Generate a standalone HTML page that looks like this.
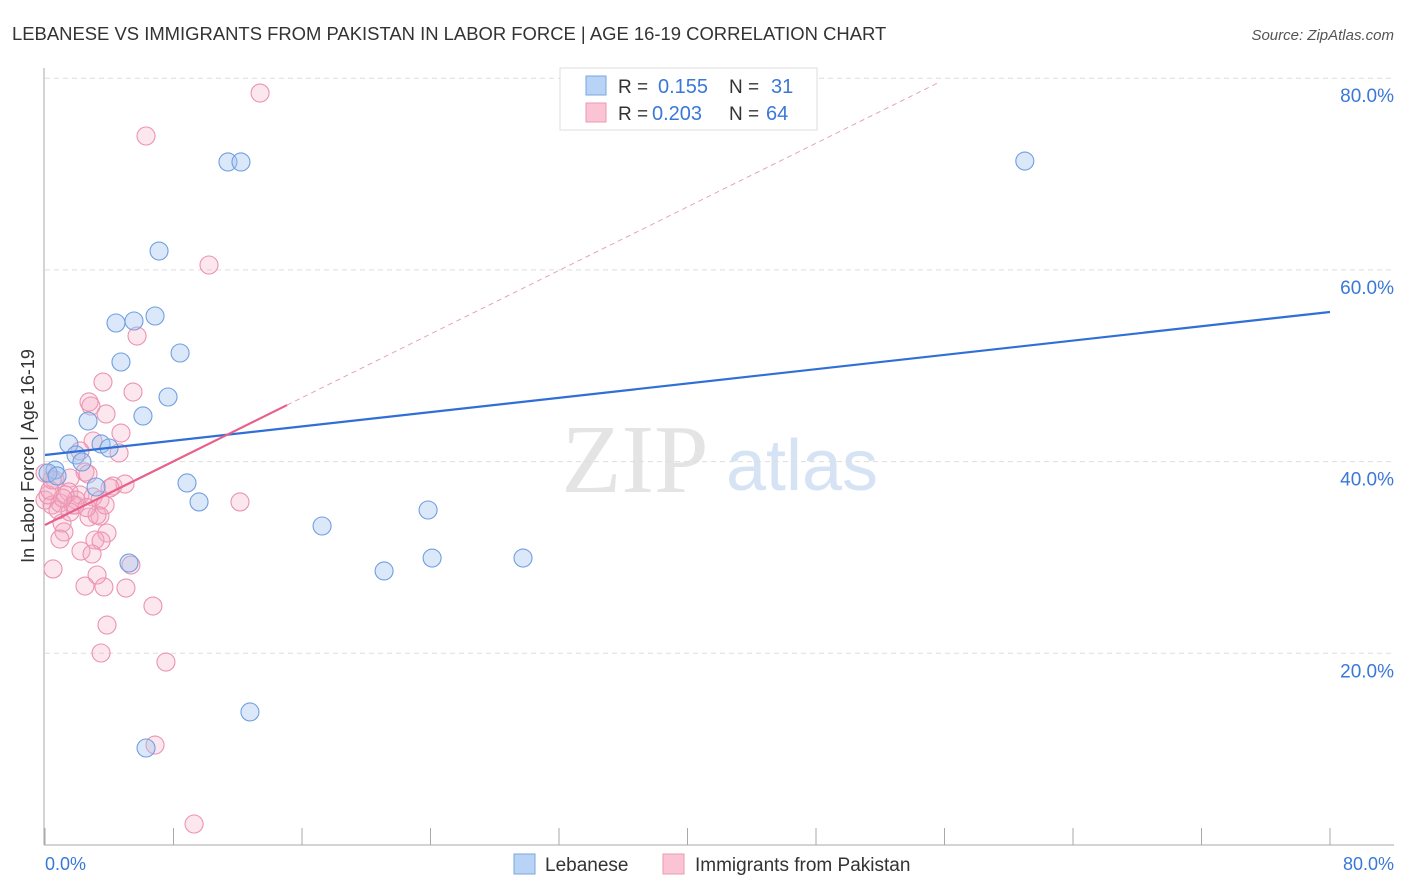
<!DOCTYPE html>
<html><head><meta charset="utf-8"><style>
body{margin:0;background:#fff;font-family:"Liberation Sans",sans-serif;}
#wrap{position:relative;width:1406px;height:892px;overflow:hidden;}
</style></head><body><div id="wrap">
<svg id="svg" width="1406" height="892">
<text x="12" y="40" font-size="18.45" fill="#333">LEBANESE VS IMMIGRANTS FROM PAKISTAN IN LABOR FORCE | AGE 16-19 CORRELATION CHART</text>
<text x="1394" y="40" font-size="15" fill="#555" font-style="italic" text-anchor="end">Source: ZipAtlas.com</text>
<text x="635" y="492" font-size="98" fill="#e4e4e4" font-family="Liberation Serif,serif" text-anchor="middle">ZIP</text>
<text x="802" y="490" font-size="72" fill="#d6e3f5" text-anchor="middle">atlas</text>
<g id="grid"></g><g id="axes"></g><g id="pts"></g><g id="lines"></g>
<text x="34" y="456" font-size="18" fill="#333" text-anchor="middle" transform="rotate(-90 34 456)">In Labor Force | Age 16-19</text>
<text x="45" y="870" font-size="18" fill="#3a78d8">0.0%</text>
<text x="1394" y="870" font-size="18" fill="#3a78d8" text-anchor="end">80.0%</text>
<g>
<rect x="560" y="68" width="257" height="62" fill="#fff" stroke="#ddd"/>
<rect x="586" y="76" width="20" height="19" fill="#b8d3f5" stroke="#7aa7e0"/>
<rect x="586" y="103" width="20" height="19" fill="#fac4d4" stroke="#ec9ab4"/>
<text x="618" y="93" font-size="19" fill="#333">R =</text><text x="658" y="93" font-size="20" fill="#3a78d8">0.155</text>
<text x="729" y="93" font-size="19" fill="#333">N =</text><text x="771" y="93" font-size="20" fill="#3a78d8">31</text>
<text x="618" y="120" font-size="19" fill="#333">R =</text><text x="652" y="120" font-size="20" fill="#3a78d8">0.203</text>
<text x="729" y="120" font-size="19" fill="#333">N =</text><text x="766" y="120" font-size="20" fill="#3a78d8">64</text>
</g>
<g>
<rect x="514" y="854" width="21" height="20" fill="#b8d3f5" stroke="#7aa7e0"/>
<text x="545" y="871" font-size="19" fill="#333">Lebanese</text>
<rect x="663" y="854" width="21" height="20" fill="#fac4d4" stroke="#ec9ab4"/>
<text x="695" y="871" font-size="19" fill="#333">Immigrants from Pakistan</text>
</g>
</svg></div>
<script>
const yTicks=[20,40,60,80];
const xTickVals=[0,8,16,24,32,40,48,56,64,72,80];
const blueX=[11.39,12.2,61.0,7.1,6.85,4.42,5.54,8.41,4.73,7.66,6.1,2.68,1.49,3.49,3.99,1.93,2.3,0.62,0.19,0.75,8.84,3.18,9.59,17.25,23.85,21.11,24.1,29.76,5.23,12.76,6.29];
const blueY=[71.26,71.26,71.36,61.97,55.19,54.46,54.67,51.33,50.39,46.74,44.76,44.23,41.84,41.84,41.42,40.69,39.96,39.12,38.81,38.5,37.77,37.35,35.79,33.28,34.95,28.59,29.94,29.94,29.42,13.88,10.12];
const pinkX=[13.39,6.29,10.21,5.73,3.61,5.48,2.74,2.86,3.8,4.73,2.99,2.18,4.61,2.49,2.68,1.56,0.62,4.23,4.98,1.49,2.18,2.99,12.14,3.42,2.74,3.24,1.06,3.86,1.18,0.93,3.11,3.49,2.24,2.93,0.5,2.49,5.04,3.67,3.24,6.72,3.86,3.49,7.53,6.85,9.28,5.35,0,0.44,0.93,1.74,1.93,0.19,1.25,0.81,1.56,4.05,3.42,3.74,0,0.44,1.87,1.1,2.6,0.3];
const pinkY=[78.45,73.97,60.51,53.1,48.3,47.26,46.22,45.8,44.97,42.98,42.15,41.11,40.9,38.91,38.71,38.29,38.08,37.45,37.66,36.83,36.52,36.31,35.79,34.32,34.22,34.43,33.59,32.55,32.66,31.92,31.82,31.72,30.67,30.36,28.8,27.02,26.81,26.92,28.17,24.93,22.95,20.03,19.09,10.43,2.19,29.21,35.99,35.47,35.68,35.47,35.99,36.52,36.52,34.95,34.74,37.25,35.99,35.47,38.81,38.08,35.47,36.2,35.2,37.0];
const blueTrend=[0,40.69,80,55.61];
const pinkTrend=[0,33.39,15.07,45.9];
const pinkDash=[15.07,45.9,55.7,79.6];
const X=v=>45+v/80*1285, Y=v=>845-v/20*191.7;
const NS='http://www.w3.org/2000/svg';
function mk(t,a,p){const e=document.createElementNS(NS,t);for(const k in a)e.setAttribute(k,a[k]);document.getElementById(p).appendChild(e);return e;}
yTicks.forEach(v=>{
 const l=mk('line',{x1:45,x2:1394,y1:Y(v),y2:Y(v),stroke:'#ddd','stroke-dasharray':'5,4'},'grid');
 
 
 const t=mk('text',{x:1394,y:Y(v)+24,'font-size':19,fill:'#3a78d8','text-anchor':'end'},'grid');
 t.textContent=v.toFixed(1)+'%';
 
 
});
const ax=mk('line',{x1:44,x2:44,y1:68,y2:845,stroke:'#aaa'},'axes');


const bx=mk('line',{x1:44,x2:1394,y1:845,y2:845,stroke:'#aaa'},'axes');


xTickVals.forEach(v=>{
 const t=mk('line',{x1:X(v),x2:X(v),y1:828,y2:845,stroke:'#aaa'},'axes');
 
 
});
pinkX.forEach((x,i)=>{
 const c=mk('circle',{cx:X(x),cy:Y(pinkY[i]),r:9,fill:'rgba(246,168,194,0.28)',stroke:'#eb93b0','stroke-width':1.1},'pts');
 
 
});
blueX.forEach((x,i)=>{
 const c=mk('circle',{cx:X(x),cy:Y(blueY[i]),r:9,fill:'rgba(160,195,240,0.38)',stroke:'#6f9fe0','stroke-width':1.1},'pts');
 
 
});
const bl=mk('line',{x1:X(blueTrend[0]),y1:Y(blueTrend[1]),x2:X(blueTrend[2]),y2:Y(blueTrend[3]),stroke:'#2f6fd6','stroke-width':2.2},'lines');


const pd=mk('line',{x1:X(pinkDash[0]),y1:Y(pinkDash[1]),x2:X(pinkDash[2]),y2:Y(pinkDash[3]),stroke:'#eaa0b8','stroke-width':1,'stroke-dasharray':'5,4'},'lines');


const pl=mk('line',{x1:X(pinkTrend[0]),y1:Y(pinkTrend[1]),x2:X(pinkTrend[2]),y2:Y(pinkTrend[3]),stroke:'#e8608a','stroke-width':2.2},'lines');


</script></body></html>
